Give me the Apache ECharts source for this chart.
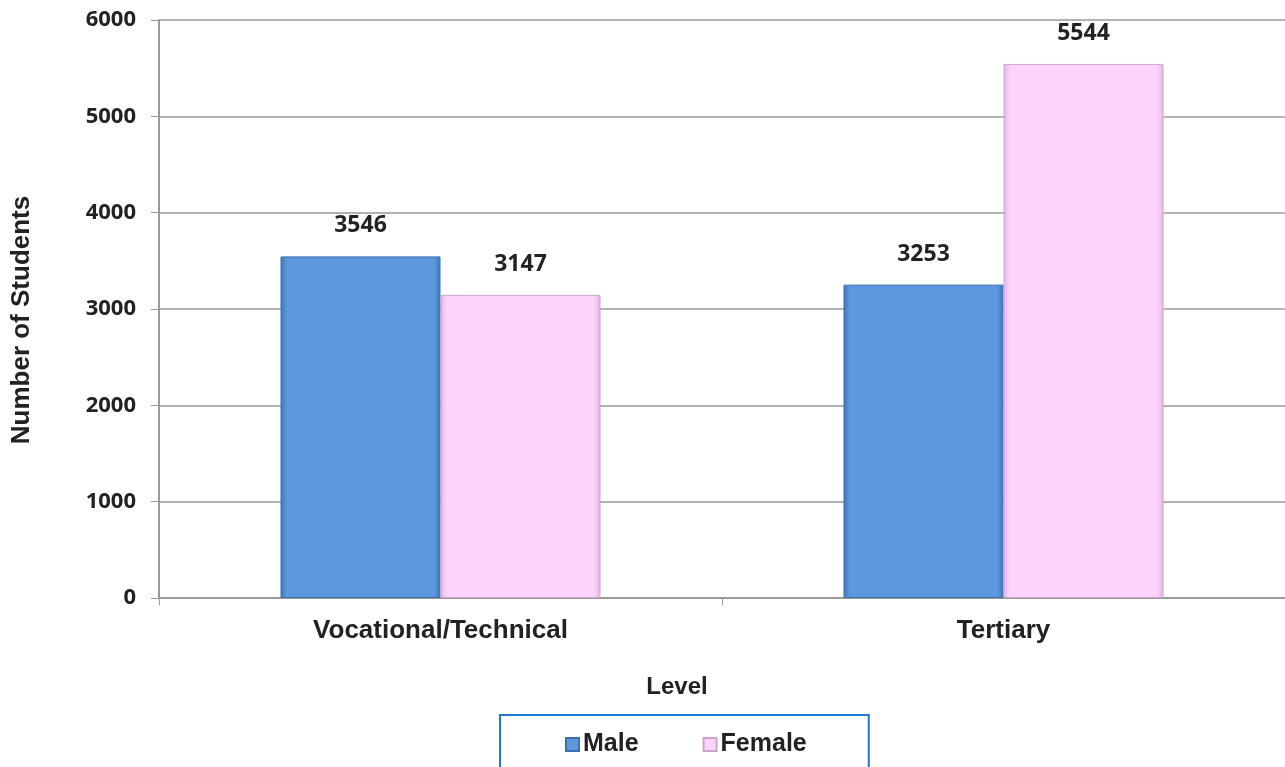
<!DOCTYPE html>
<html>
<head>
<meta charset="utf-8">
<script src="https://cdn.jsdelivr.net/npm/echarts@6/dist/echarts.min.js"></script>
<style>
  html, body { margin: 0; padding: 0; background: #fff; }
  #chart { width: 1285px; height: 767px; }
</style>
</head>
<body>
<div id="chart"></div>
<script>
// 数据
var categories = ['Vocational/Technical', 'Tertiary'];
var maleValues = [3546, 3253];
var femaleValues = [3147, 5544];
var yTicks = [0, 1000, 2000, 3000, 4000, 5000, 6000];

// 斜面效果的横向渐变
function bevel(edge, mid) {
    return {
        type: 'linear', x: 0, y: 0, x2: 1, y2: 0,
        colorStops: [
            { offset: 0, color: edge },
            { offset: 0.04, color: mid },
            { offset: 0.96, color: mid },
            { offset: 1, color: edge }
        ]
    };
}

var labelStyle = {
    show: true,
    position: 'top',
    distance: 19,
    color: '#222',
    fontFamily: 'Noto Sans',
    fontWeight: 'bold',
    fontSize: 23
};

var myChart = echarts.init(document.getElementById('chart'));

var option = {
    animation: false,
    backgroundColor: '#fff',
    grid: { left: 159, right: 0, top: 20, bottom: 169 },
    title: {
        text: 'Level',
        left: 672,
        top: 670,
        textAlign: 'center',
        textStyle: { fontFamily: 'Liberation Sans', fontWeight: 'bold', fontSize: 24, color: '#222' }
    },
    graphic: [{
        type: 'text',
        x: 22,
        y: 320,
        rotation: Math.PI / 2,
        style: {
            text: 'Number of Students',
            align: 'center',
            verticalAlign: 'middle',
            fontFamily: 'Liberation Sans',
            fontWeight: 'bold',
            fontSize: 26,
            fill: '#222'
        }
    }],
    legend: {
        data: ['Male', 'Female'],
        left: 500,
        top: 715,
        padding: [17, 62, 40, 65],
        itemGap: 64,
        itemWidth: 13,
        itemHeight: 13,
        icon: 'rect',
        borderColor: '#1f77d0',
        borderWidth: 2,
        textStyle: { fontFamily: 'Liberation Sans', fontWeight: 'bold', fontSize: 25, color: '#222', padding: [0, 0, 0, -1] }
    },
    xAxis: {
        type: 'category',
        data: categories,
        axisLine: { lineStyle: { color: '#999', width: 2 } },
        axisTick: { show: true, length: 7, lineStyle: { color: '#999', width: 1 } },
        axisLabel: { margin: 20, fontFamily: 'Liberation Sans', fontWeight: 'bold', fontSize: 26, color: '#222' }
    },
    yAxis: {
        type: 'value',
        min: yTicks[0],
        max: yTicks[yTicks.length - 1],
        interval: 1000,
        axisLine: { show: true, lineStyle: { color: '#999', width: 2 } },
        axisTick: { show: true, length: 8, lineStyle: { color: '#999', width: 1 } },
        axisLabel: {
            margin: 23,
            fontFamily: 'Noto Sans',
            fontWeight: 'bold',
            fontSize: 22,
            color: '#222',
            formatter: function (v) { return String(v); }
        },
        splitLine: { lineStyle: { color: '#999', width: 1.5 } }
    },
    series: [
        {
            name: 'Male',
            type: 'bar',
            data: maleValues,
            barWidth: 160,
            barGap: '0%',
            itemStyle: { color: bevel('#3f76b8', '#5b98dd'), borderColor: '#3d6fae', borderWidth: 1 },
            label: labelStyle
        },
        {
            name: 'Female',
            type: 'bar',
            data: femaleValues,
            barWidth: 160,
            itemStyle: { color: bevel('#e2b6e4', '#fcd4fb'), borderColor: '#c9a4cb', borderWidth: 1 },
            label: labelStyle
        }
    ]
};

myChart.setOption(option);
</script>
</body>
</html>
